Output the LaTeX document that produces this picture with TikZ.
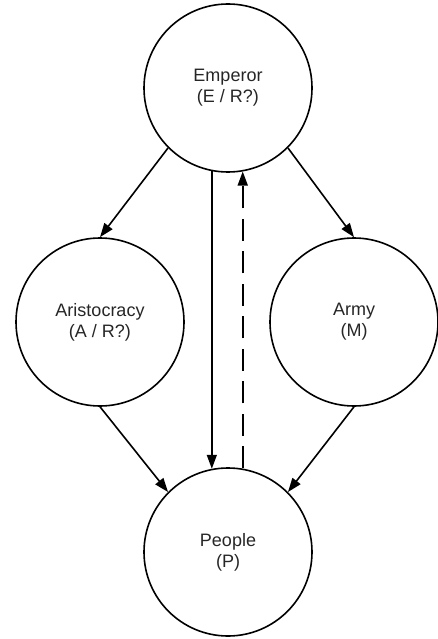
\documentclass[tikz,border=0pt]{standalone}
\usepackage{fontspec}
\setmainfont{Liberation Sans}
\usetikzlibrary{arrows.meta}
\definecolor{txt}{HTML}{262626}
\begin{document}
\begin{tikzpicture}[x=1pt,y=-1pt,
  circ/.style={circle, draw=black, line width=1.6pt, minimum size=168pt, inner sep=0pt,
    align=center, font=\fontsize{18}{21}\selectfont, text=txt},
  conn/.style={line width=1.6pt, -{Triangle[length=14pt,width=10pt]}},
  dashconn/.style={conn, dash pattern=on 22pt off 10.5pt}]
\useasboundingbox (0,0) rectangle (437,639);
\node[circ] (E) at (228,88) {Emperor\\(E / R?)};
\node[circ] (A) at (100,322) {Aristocracy\\(A / R?)};
\node[circ] (M) at (354,322) {Army\\(M)};
\node[circ] (P) at (228,552) {People\\(P)};
\draw[conn] (E.south west) -- (A.north);
\draw[conn] (E.south east) -- (M.north);
\draw[conn] (A.south) -- (P.north west);
\draw[conn] (M.south) -- (P.north east);
\draw[conn] (E.259) -- (P.101);
\draw[dashconn] (P.80) -- (E.280);
\end{tikzpicture}
\end{document}
